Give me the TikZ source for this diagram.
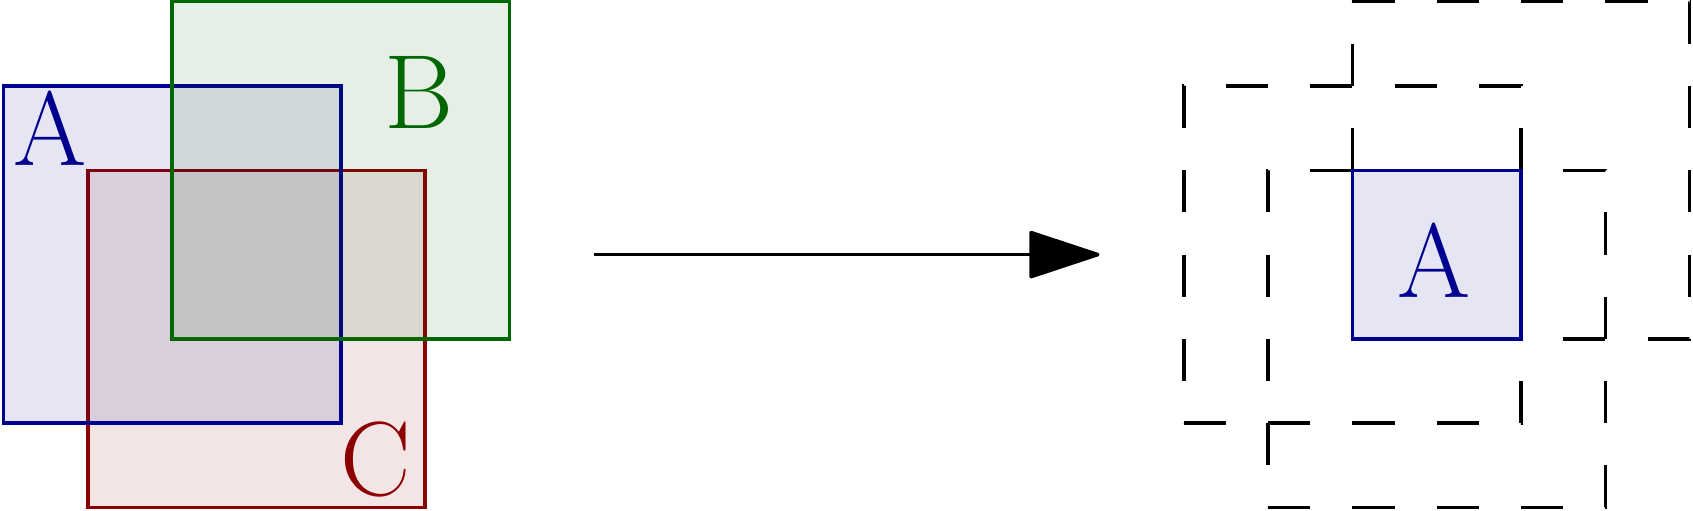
\documentclass[tikz,border=0pt]{standalone}
\usepackage{tikz}
\usetikzlibrary{arrows.meta}

\definecolor{setA}{rgb}{0,0,0.56}
\definecolor{setB}{rgb}{0,0.4,0}
\definecolor{setC}{rgb}{0.55,0,0}

\begin{document}
\begin{tikzpicture}[
        setbox/.style={draw=#1, very thick, fill=#1, fill opacity=0.1},
        setlabel/.style={text=#1, inner sep=0pt, font=\fontsize{35.6}{42}\selectfont},
        shadowbox/.style={black, very thick, dash pattern=on 0.5cm off 0.5cm}
    ]
        \useasboundingbox (-0.042, -1.04) rectangle (20.04, 5.02);
        \draw[setbox=setC] (1, -1) rectangle (5, 3);  % Set C
        \draw[setbox=setA] (0, 0) rectangle (4, 4);  % Set A
        \draw[setbox=setB] (2, 1) rectangle (6, 5);  % Set B
        \node[setlabel=setA] (labelA) at (0.55, 3.5) {A};
        \node[setlabel=setB] (labelB) at (4.93, 3.92) {B};
        \node[setlabel=setC] (labelC) at (4.42, -0.43) {C};
        \coordinate (arrowStart) at (7, 2);
        \coordinate (arrowEnd) at (13, 2);
        \draw[black, very thick, -{Triangle[length=0.88cm, width=0.57cm, round]}] (arrowStart) -- (arrowEnd);  % Arrow
        \draw[shadowbox] (14, 0) -- (18, 0) -- (18, 4) -- (14, 4) -- cycle;  % Outline A
        \draw[shadowbox] (16, 5) -- (20, 5) -- (20, 1) -- (16, 1) -- cycle;  % Outline B
        \draw[shadowbox] (15, -1) -- (19, -1) -- (19, 3) -- (15, 3) -- cycle;  % Outline C
        \draw[setbox=setA] (16, 1) rectangle (18, 3);  % Intersection
        \node[setlabel=setA] (labelCommon) at (16.97, 1.93) {A};
    \end{tikzpicture}
\end{document}
